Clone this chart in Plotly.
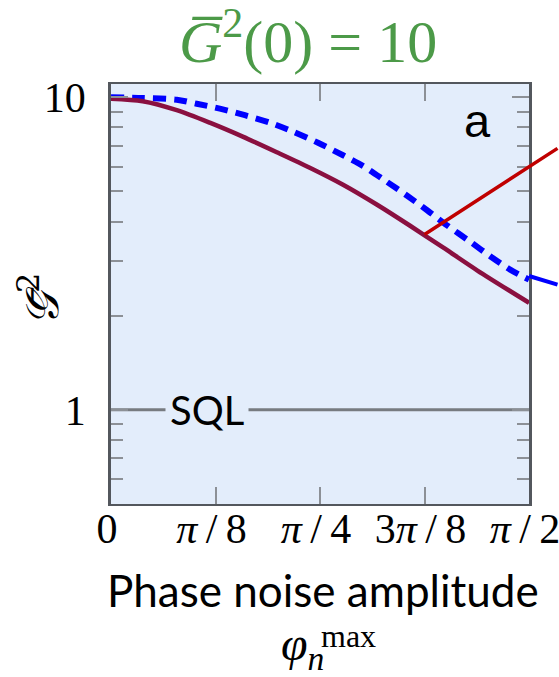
import math
import plotly.graph_objects as go

# ---- data ----
phase_purple = [0, 0.119, 0.247, 0.371, 0.495, 0.623, 0.747, 0.872, 1.000, 1.124, 1.249, 1.377, 1.571]
g2_purple = [9.89, 9.71, 9.09, 8.29, 7.48, 6.67, 5.95, 5.25, 4.53, 3.88, 3.30, 2.79, 2.20]

phase_blue = [0, 0.119, 0.247, 0.322, 0.409, 0.503, 0.597, 0.684, 0.778, 0.872, 0.948, 1.030,
              1.113, 1.188, 1.263, 1.350, 1.425, 1.500, 1.571]
g2_blue = [10.0, 9.94, 9.82, 9.53, 9.19, 8.76, 8.29, 7.76, 7.15, 6.52, 6.02, 5.41,
           4.84, 4.35, 3.89, 3.45, 3.10, 2.81, 2.61]

sql_x = [0, math.pi / 2]
sql_y = [1, 1]

x_tickvals = [0, math.pi / 8, math.pi / 4, 3 * math.pi / 8, math.pi / 2]
x_ticktext = ["0", "<i>π</i>\u2009/\u20098", "<i>π</i>\u2009/\u20094", "3<i>π</i>\u2009/\u20098", "<i>π</i>\u2009/\u20092"]
y_tickvals = [1, 10]
y_ticktext = ["1", "10"]
y_minor = [0.6, 0.7, 0.8, 0.9, 2, 3, 4, 5, 6, 7, 8, 9]

PLOT_BG = "#E3EDFB"
FRAME = "#53575D"
TICK = "#8C9096"

fig = go.Figure()
fig.add_trace(go.Scatter(x=sql_x, y=sql_y, mode="lines",
                         line=dict(color="#777B80", width=3), hoverinfo="skip"))
fig.add_trace(go.Scatter(x=phase_blue, y=g2_blue, mode="lines",
                         line=dict(color="#0000FF", width=6, dash="13px,8px", shape="spline", smoothing=0.8)))
fig.add_trace(go.Scatter(x=phase_purple, y=g2_purple, mode="lines",
                         line=dict(color="#8A1040", width=4.5, shape="spline", smoothing=0.8)))

serif = "Liberation Serif"
sans = "Lato"

fig.update_layout(
    width=559, height=677,
    margin=dict(l=111, r=30, t=84, b=173, autoexpand=False),
    paper_bgcolor="white", plot_bgcolor=PLOT_BG,
    showlegend=False,
    xaxis=dict(range=[0, math.pi / 2], tickvals=x_tickvals, ticktext=x_ticktext,
               ticks="inside", ticklen=17, tickwidth=1.5, tickcolor=TICK,
               showline=True, linecolor=FRAME, linewidth=2, mirror="ticks",
               showgrid=False, zeroline=False, automargin=False,
               tickfont=dict(family=serif, size=42, color="black"),
               ticklabelstandoff=-13, ticklabelshift=-4, ticklabeloverflow="allow"),
    yaxis=dict(type="log", range=[math.log10(0.5), math.log10(11.02)],
               tickvals=y_tickvals, ticktext=y_ticktext,
               ticks="inside", ticklen=17, tickwidth=1.5, tickcolor=TICK,
               minor=dict(tickvals=y_minor, ticks="inside", ticklen=12, tickwidth=1.5,
                          tickcolor=TICK, showgrid=False),
               showline=True, linecolor=FRAME, linewidth=2.5, mirror="ticks",
               showgrid=False, zeroline=False, automargin=False,
               tickfont=dict(family=serif, size=42, color="black"),
               ticklabelstandoff=14),
)

def px2paper(px, py):
    return (px - 111) / 418, (504 - py) / 420

def txt(px, py, text, font, **kw):
    x, y = px2paper(px, py)
    d = dict(x=x, y=y, xref="paper", yref="paper", showarrow=False, text=text,
             xanchor="center", yanchor="middle", font=font)
    d.update(kw)
    return d

anns = [
    txt(307.5, 38, "<i>G\u0305</i><sup>2</sup>(0) = 10",
        dict(family=serif, size=60, color="#4C9A48")),
    txt(323, 590, "Phase noise amplitude", dict(family=sans, size=44, color="black")),
    txt(302, 647, "<i>φ</i><sub><i>n</i></sub>", dict(family=serif, size=48, color="black")),
    txt(348, 636, "max", dict(family=serif, size=32, color="black")),
    txt(39, 300, "<i>𝒢\u0304</i><sup>2</sup>",
        dict(family="DejaVu Serif, DejaVu Sans", size=46, color="black"), textangle=-90),
    txt(477.5, 120.5, "a", dict(family="Liberation Sans", size=47, color="black")),
]
anns.append(dict(x=0.36, y=0, xref="x", yref="y", showarrow=False, text="SQL",
                 bgcolor=PLOT_BG, borderpad=4, xanchor="center", yanchor="middle",
                 font=dict(family=sans, size=40, color="black")))
# connector lines pointing out of the panel
anns.append(dict(x=3 * math.pi / 8, y=math.log10(3.64), xref="x", yref="y", text="",
                 showarrow=True, arrowhead=0, arrowwidth=3.5, arrowcolor="#C00000",
                 ax=150, ay=-87, standoff=0, startstandoff=0))
anns.append(dict(x=math.pi / 2, y=math.log10(2.68), xref="x", yref="y", text="",
                 showarrow=True, arrowhead=0, arrowwidth=4, arrowcolor="#0000FF",
                 ax=45, ay=9, standoff=0, startstandoff=0))
fig.update_layout(annotations=anns)

fig.write_html("out.html")
